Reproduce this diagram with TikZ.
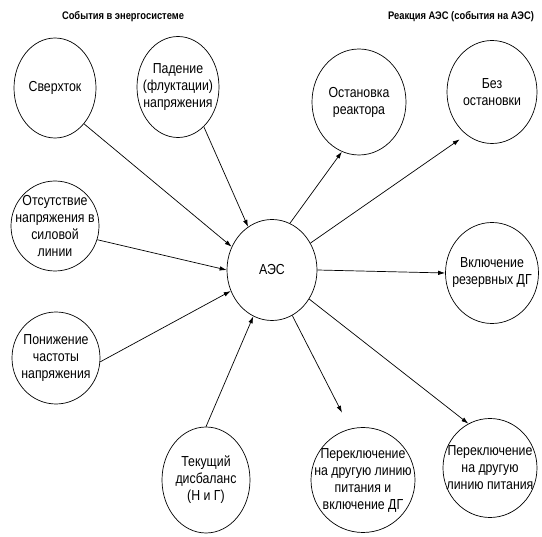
\documentclass[tikz,border=0pt]{standalone}
\usepackage{fontspec}
\setmainfont{Liberation Sans}[FakeStretch=0.85]
\usetikzlibrary{shapes.geometric,arrows.meta}

\tikzset{
	ev/.style={ellipse, draw, line width=0.7pt, inner sep=0pt},
	lbl/.style={align=center, font=\fontsize{14.5}{17}\selectfont},
	ttl/.style={font=\fontsize{11}{13}\selectfont\bfseries},
	>={Latex[length=7pt,width=4.5pt]}
}

\begin{document}
\begin{tikzpicture}[x=1pt, y=-1pt]
%		\draw[help lines] (0,0) grid (542,537);
		\useasboundingbox (0,0) rectangle (542,537);
		\node[ttl] (t1) at (123,17) {События в энергосистеме};
		\node[ttl] (t2) at (461,17) {Реакция АЭС (события на АЭС)};
		% events
		\node[ev, minimum width=82pt, minimum height=100pt, label={[lbl]center:Сверхток}] (sverh) at (55,88) {};
		\node[ev, minimum width=82pt, minimum height=101pt, label={[lbl]center:Падение\\(флуктации)\\напряжения}] (pad) at (178,87) {};
		\node[ev, minimum width=88pt, minimum height=90pt, label={[lbl]center:Отсутствие\\напряжения в\\силовой\\линии}] (otsut) at (55,226) {};
		\node[ev, minimum width=88pt, minimum height=92pt, label={[lbl]center:Понижение\\частоты\\напряжения}] (ponizh) at (56,358) {};
		\node[ev, minimum width=88pt, minimum height=106pt, label={[lbl]center:Текущий\\дисбаланс\\(Н и Г)}] (tek) at (206,480) {};
		% plant
		\node[ev, minimum width=90pt, minimum height=101pt, label={[lbl]center:АЭС}] (aes) at (272,270) {};
		% reactions
		\node[ev, minimum width=94pt, minimum height=106pt, label={[lbl]center:Остановка\\реактора}] (ost) at (359,102) {};
		\node[ev, minimum width=90pt, minimum height=103pt, label={[lbl]center:Без\\остановки}] (bez) at (492,92) {};
		\node[ev, minimum width=93pt, minimum height=101pt, label={[lbl]center:Включение\\резервных ДГ}] (vkl) at (492,273) {};
		\node[ev, minimum width=104pt, minimum height=105pt, label={[lbl]center:Переключение\\на другую линию\\питания и\\включение ДГ}] (perdg) at (363,480) {};
		\node[ev, minimum width=94pt, minimum height=99pt, label={[lbl]center:Переключение\\на другую\\линию питания}] (perln) at (490,468) {};
		% arrows
		\draw[line width=0.7pt, ->] (sverh.-51) -- (aes.150);
		\draw[line width=0.7pt, ->] (pad.-57) -- (aes.119);
		\draw[line width=0.7pt, ->] (otsut.-18) -- (aes.180);
		\draw[line width=0.7pt, ->] (ponizh.-5) -- (aes.-153);
		\draw[line width=0.7pt, ->] (tek.90) -- (aes.-112);
		\draw[line width=0.7pt, ->] (aes.69) -- (ost.-109);
		\draw[line width=0.7pt, ->, shorten >=8pt] (aes.35) -- (bez.-121);
		\draw[line width=0.7pt, ->] (aes.0) -- (vkl.180);
		\draw[line width=0.7pt, ->, shorten >=18pt] (aes.-66) -- (perdg.104);
		\draw[line width=0.7pt, ->] (aes.-38) -- (perln.116);
	\end{tikzpicture}
\end{document}
